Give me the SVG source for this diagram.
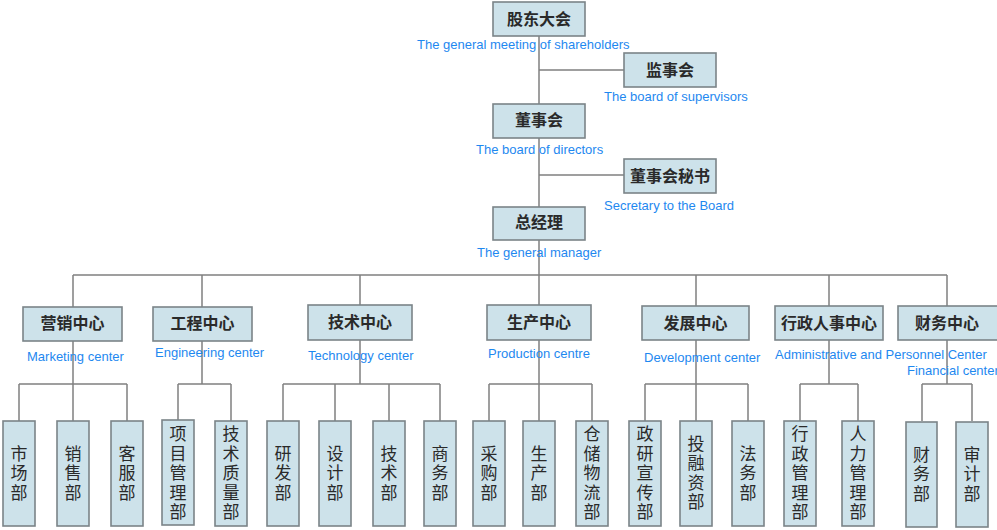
<svg xmlns="http://www.w3.org/2000/svg" width="997" height="530" viewBox="0 0 997 530">
<style>
.box{fill:#cde2ea;stroke:#7b8488;stroke-width:1.6}
.ln{fill:none;stroke:#808080;stroke-width:1.5}
.cn{font-family:"Noto Sans CJK SC","Noto Sans CJK TC",sans-serif;font-size:16px;fill:#2a2a2a;text-anchor:middle;font-weight:bold}
.cv{font-family:"Noto Sans CJK SC","Noto Sans CJK TC",sans-serif;font-size:17px;fill:#2a2a2a;text-anchor:middle;writing-mode:vertical-rl;letter-spacing:2.5px}
.en{font-family:"Liberation Sans",Arial,sans-serif;font-size:13px;fill:#1e88f0}
</style>
<rect width="997" height="530" fill="#ffffff"/>
<g id="connectors">
<path class="ln" d="M539,36V207M539,240V275M539,70H624M539,175H624"/>
<path class="ln" d="M73,275H947M73,275V307M202,275V307M360,275V305M539,275V305M696,275V306M829,275V306M947,275V306"/>
<path class="ln" d="M73,341V384M19,384H127M19,384V421M73,384V421M127,384V421"/>
<path class="ln" d="M202,341V384M178,384H231M178,384V420M231,384V421"/>
<path class="ln" d="M360,340V384M283,384H440M283,384V421M335,384V421M389,384V421M440,384V421"/>
<path class="ln" d="M539,340V384M489,384H592M489,384V421M539,384V421M592,384V421"/>
<path class="ln" d="M696,340V384M645,384H748M645,384V421M696,384V421M748,384V421"/>
<path class="ln" d="M829,340V384M800,384H858M800,384V421M858,384V421"/>
<path class="ln" d="M947,340V384M922,384H972M922,384V421M972,384V421"/>
</g>
<g id="gm"><rect class="box" x="493" y="2" width="92" height="34"/><text class="cn" x="539" y="24.5">股东大会</text><text class="en" x="417" y="49">The general meeting of shareholders</text></g>
<g id="sup"><rect class="box" x="624" y="53" width="92" height="34"/><text class="cn" x="670" y="76">监事会</text><text class="en" x="604" y="101">The board of supervisors</text></g>
<g id="bod"><rect class="box" x="493" y="104" width="92" height="34"/><text class="cn" x="539" y="126">董事会</text><text class="en" x="476" y="153.5">The board of directors</text></g>
<g id="sec"><rect class="box" x="624" y="159" width="92" height="34"/><text class="cn" x="670" y="181.5">董事会秘书</text><text class="en" x="604" y="210">Secretary to the Board</text></g>
<g id="gmgr"><rect class="box" x="493" y="207" width="92" height="33"/><text class="cn" x="539" y="228">总经理</text><text class="en" x="477" y="257">The general manager</text></g>
<g id="c1"><rect class="box" x="23" y="307" width="99" height="34"/><text class="cn" x="72.5" y="329">营销中心</text><text class="en" x="27" y="360.5">Marketing center</text></g>
<g id="c2"><rect class="box" x="153" y="307" width="99" height="34"/><text class="cn" x="202.5" y="329">工程中心</text><text class="en" x="155" y="356.5">Engineering center</text></g>
<g id="c3"><rect class="box" x="308" y="305" width="104" height="35"/><text class="cn" x="360" y="327.5">技术中心</text><text class="en" x="308" y="360">Technology center</text></g>
<g id="c4"><rect class="box" x="487" y="305" width="104" height="35"/><text class="cn" x="539" y="327.5">生产中心</text><text class="en" x="488" y="357.5">Production centre</text></g>
<g id="c5"><rect class="box" x="642" y="306" width="107" height="34"/><text class="cn" x="695.5" y="328.5">发展中心</text><text class="en" x="644" y="362">Development center</text></g>
<g id="c6"><rect class="box" x="775" y="306" width="108" height="34"/><text class="cn" x="829" y="328.5">行政人事中心</text><text class="en" x="775" y="358.5">Administrative and Personnel Center</text></g>
<g id="c7"><rect class="box" x="898" y="306" width="100" height="34"/><text class="cn" x="947" y="328.5">财务中心</text><text class="en" x="907" y="375">Financial center</text></g>
<g id="d1"><rect class="box" x="3" y="421" width="32" height="105"/><text class="cv" x="19" y="474">市场部</text></g>
<g id="d2"><rect class="box" x="57" y="421" width="32" height="105"/><text class="cv" x="73" y="474">销售部</text></g>
<g id="d3"><rect class="box" x="111" y="421" width="32" height="105"/><text class="cv" x="127" y="474">客服部</text></g>
<g id="d4"><rect class="box" x="162" y="420" width="32" height="105"/><text class="cv" x="178" y="474">项目管理部</text></g>
<g id="d5"><rect class="box" x="215" y="421" width="32" height="105"/><text class="cv" x="231" y="474">技术质量部</text></g>
<g id="d6"><rect class="box" x="267" y="421" width="32" height="105"/><text class="cv" x="283" y="474">研发部</text></g>
<g id="d7"><rect class="box" x="319" y="421" width="32" height="105"/><text class="cv" x="335" y="474">设计部</text></g>
<g id="d8"><rect class="box" x="373" y="421" width="32" height="105"/><text class="cv" x="389" y="474">技术部</text></g>
<g id="d9"><rect class="box" x="424" y="421" width="32" height="105"/><text class="cv" x="440" y="474">商务部</text></g>
<g id="d10"><rect class="box" x="473" y="421" width="32" height="105"/><text class="cv" x="489" y="474">采购部</text></g>
<g id="d11"><rect class="box" x="523" y="421" width="32" height="105"/><text class="cv" x="539" y="474">生产部</text></g>
<g id="d12"><rect class="box" x="576" y="421" width="32" height="105"/><text class="cv" x="592" y="474">仓储物流部</text></g>
<g id="d13"><rect class="box" x="629" y="421" width="32" height="105"/><text class="cv" x="645" y="474">政研宣传部</text></g>
<g id="d14"><rect class="box" x="680" y="421" width="32" height="105"/><text class="cv" x="696" y="474">投融资部</text></g>
<g id="d15"><rect class="box" x="732" y="421" width="32" height="105"/><text class="cv" x="748" y="474">法务部</text></g>
<g id="d16"><rect class="box" x="784" y="421" width="32" height="105"/><text class="cv" x="800" y="474">行政管理部</text></g>
<g id="d17"><rect class="box" x="842" y="421" width="32" height="105"/><text class="cv" x="858" y="474">人力管理部</text></g>
<g id="d18"><rect class="box" x="906" y="422" width="31" height="105"/><text class="cv" x="921.5" y="475">财务部</text></g>
<g id="d19"><rect class="box" x="956" y="422" width="32" height="105"/><text class="cv" x="972" y="475">审计部</text></g>
</svg>
